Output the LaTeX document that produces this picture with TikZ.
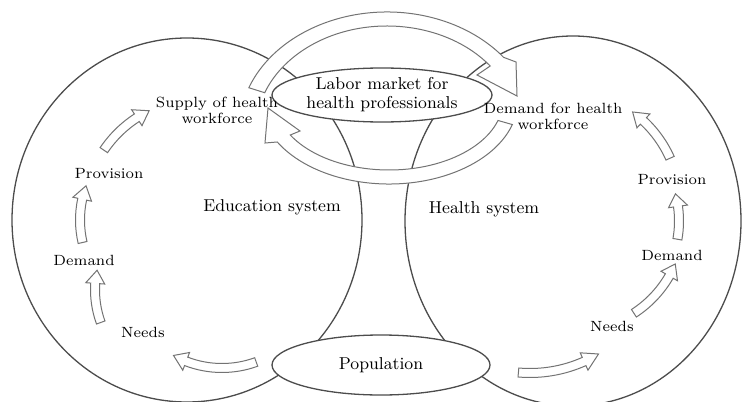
\documentclass[tikz,border=0pt]{standalone}
\usepackage{fontspec}
\usepackage{tikz}
\usetikzlibrary{shapes.geometric,calc}

\newcommand{\cycarrow}[5]{%
  \draw[blk] ([shift={(#1)}]#3:{#2+4.5}) arc[start angle=#3, end angle=#4, radius={#2+4.5}]
    -- ([shift={(#1)}]#4:{#2+9.5}) -- ([shift={(#1)}]#5:#2) -- ([shift={(#1)}]#4:{#2-9.5})
    -- ([shift={(#1)}]#4:{#2-4.5}) arc[start angle=#4, end angle=#3, radius={#2-4.5}] -- cycle;}

\begin{document}
\begin{tikzpicture}[
  x=0.5pt, y=-0.5pt,
  ring/.style={draw=black!70, line width=0.65pt},
  hub/.style={ellipse, draw=black!70, line width=0.65pt, fill=white, inner sep=0pt, align=center, font=\fontsize{8.6}{9.5}\selectfont},
  blk/.style={draw=black!55, fill=white, line width=0.5pt},
  sys/.style={font=\fontsize{8.6}{9.5}\selectfont},
  lbl/.style={align=center, font=\fontsize{7.4}{8}\selectfont}
]
\useasboundingbox (0,0) rectangle (743,401);

\draw[ring] (187,220) ellipse[x radius=175, y radius=182];
\draw[ring] (573,221) ellipse[x radius=168, y radius=185];

\node[hub, minimum width=110pt, minimum height=27pt] (labor) at (382,95) {Labor market for\\health professionals};
\node[hub, minimum width=109pt, minimum height=30pt] (pop) at (381,365) {Population};

\draw[blk] ([shift={(387,130)}]201:148 and 118) arc[start angle=201, end angle=322, x radius=148, y radius=118]
  -- (516,62) -- (517,96) -- (477,75)
  -- ([shift={(387,130)}]322:131 and 104) arc[start angle=322, end angle=201, x radius=131, y radius=104] -- cycle;
\draw[blk] ([shift={(389,100)}]17:129 and 84) arc[start angle=17, end angle=150, x radius=129, y radius=84]
  -- (265,143) -- (268,108) -- (300,131)
  -- ([shift={(389,100)}]150:114 and 70) arc[start angle=150, end angle=17, x radius=114, y radius=70] -- cycle;

\cycarrow{222,268}{100}{70}{111}{119}
\cycarrow{190,290}{95}{160}{184}{192}
\cycarrow{180,220}{100}{167}{192}{200}
\cycarrow{200,215}{116}{214}{237}{244}
\cycarrow{530,240}{133}{95}{66}{59}
\cycarrow{574,221}{110}{57}{30}{23}
\cycarrow{574,221}{105}{10}{-8}{-15}
\cycarrow{565,205}{115}{-24}{-47}{-54}

\node[lbl] (supply) at (217,110) {Supply of health\\workforce};
\node[lbl] (demand) at (553,116) {Demand for health\\workforce};
\node[lbl] (provL) at (109,174) {Provision};
\node[lbl] (demL) at (84,260) {Demand};
\node[lbl] (needL) at (143,332) {Needs};
\node[sys] (edu) at (272,207) {Education system};
\node[sys] (hsys) at (484,209) {Health system};
\node[lbl] (needR) at (612,326) {Needs};
\node[lbl] (demR) at (672,255) {Demand};
\node[lbl] (provR) at (672,180) {Provision};

\end{tikzpicture}
\end{document}
